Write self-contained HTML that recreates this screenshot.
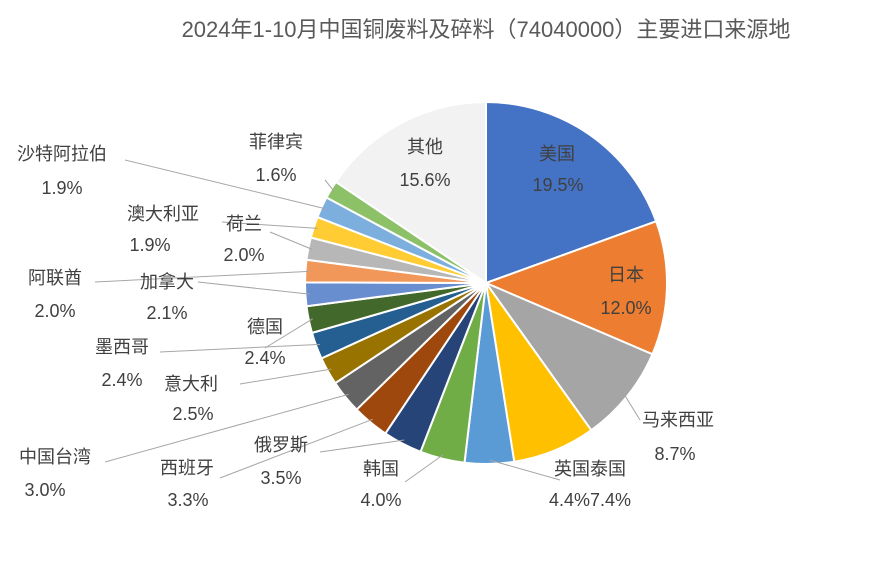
<!DOCTYPE html>
<html><head><meta charset="utf-8"><style>
body{margin:0;background:#fff;}
svg{display:block;font-family:"Liberation Sans","Noto Sans CJK SC",sans-serif;}
</style></head><body>
<svg id="chart" width="872" height="571" viewBox="0 0 872 571">
<text x="486" y="37" text-anchor="middle" font-size="22" fill="#595959">2024年1-10月中国铜废料及碎料（74040000）主要进口来源地</text>
<g id="slices"></g><g id="lines"></g><g id="labels"></g>
</svg>
<script>
const categories=["美国","日本","马来西亚","泰国","英国","韩国","俄罗斯","西班牙","中国台湾","意大利","墨西哥","德国","加拿大","阿联酋","荷兰","澳大利亚","沙特阿拉伯","菲律宾","其他"];
const values=[19.5,12.0,8.7,7.4,4.4,4.0,3.5,3.3,3.0,2.5,2.4,2.4,2.1,2.0,2.0,1.9,1.9,1.6,15.6];
const colors=["#4472c4","#ed7d31","#a5a5a5","#ffc000","#5b9bd5","#70ad47","#264478","#9e480e","#636363","#997300","#255e91","#43682b","#698ed0","#f1975a","#b7b7b7","#ffcd33","#7cafdd","#8cc168","#f2f2f2"];
// label anchor layout: [nameX,nameY,pctX,pctY,lineEndX,lineEndY] (null line = inside)
const layout=[[557,160,558,191,null],[626,281,626,314,null],[678,426,675,460,[640,420]],[null],[590,475,590,506,[560,480]],[381,475,381,506,[405,482]],[281,451,281,484,[320,452]],[187,474,188,506,[220,478]],[55,463,45,496,[105,462]],[191,390,193,420,[240,384]],[122,353,122,386,[160,352]],[265,333,265,364,[265,348]],[167,288,167,319,[198,282]],[55,284,55,317,[95,282]],[244,230,244,261,[270,232]],[163,220,150,251,[222,222]],[62,160,62,194,[125,160]],[276,148,276,181,[325,180]],[425,153,425,186,null]];
const cx=486,cy=283,r=181,NS="http://www.w3.org/2000/svg";
const total=values.reduce((a,b)=>a+b,0);
const pt=(a,rr)=>[cx+rr*Math.sin(a),cy-rr*Math.cos(a)];
let a0=0;
const gS=document.getElementById('slices'),gL=document.getElementById('lines'),gT=document.getElementById('labels');
function txt(x,y,s,nm){const t=document.createElementNS(NS,'text');t.setAttribute('x',x);t.setAttribute('y',y);t.setAttribute('text-anchor','middle');t.setAttribute('font-size','18');t.setAttribute('fill','#404040');t.textContent=s;


gT.appendChild(t);}
values.forEach((v,i)=>{
 const a1=a0+v/total*2*Math.PI;
 const p0=pt(a0,r),p1=pt(a1,r),large=(a1-a0)>Math.PI?1:0;
 const p=document.createElementNS(NS,'path');
 p.setAttribute('d',`M${cx},${cy}L${p0[0]},${p0[1]}A${r},${r} 0 ${large} 1 ${p1[0]},${p1[1]}Z`);
 p.setAttribute('fill',colors[i]);p.setAttribute('stroke','#fff');p.setAttribute('stroke-width','2');
 
 
 gS.appendChild(p);
 const L=layout[i];
 if(L[0]!=null){
  if(L[4]){const m=pt((a0+a1)/2,r-4);const ln=document.createElementNS(NS,'polyline');
   ln.setAttribute('points',`${m[0]},${m[1]} ${L[4][0]},${L[4][1]}`);ln.setAttribute('stroke','#a6a6a6');ln.setAttribute('fill','none');ln.setAttribute('stroke-width','1');
   
   
   gL.appendChild(ln);}
  let name=categories[i],pct=v.toFixed(1)+'%';
  if(i===4){name="英国泰国";pct=values[4].toFixed(1)+'%'+values[3].toFixed(1)+'%';}
  txt(L[0],L[1],name,'label-name-'+i);
  txt(L[2],L[3],pct,'label-value-'+i);
 }
 a0=a1;
});
</script>
</body></html>
